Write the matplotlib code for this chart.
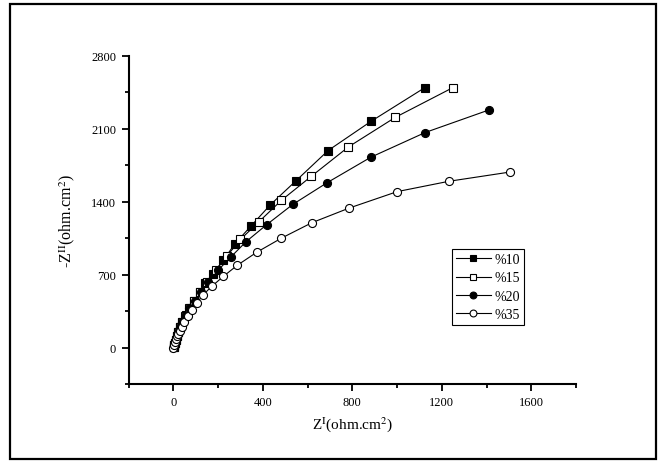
import matplotlib
matplotlib.use("Agg")
import matplotlib.pyplot as plt
from matplotlib.patches import Rectangle
from matplotlib.ticker import MultipleLocator

plt.rcParams['font.family'] = ['Liberation Serif', 'DejaVu Serif']
plt.rcParams['mathtext.fontset'] = 'stix'

labels = ['%10', '%15', '%20', '%35']

x10 = [2, 4, 7, 11, 16, 23, 31, 41, 55, 73, 94, 119, 143, 177, 224, 275, 347, 434, 549, 692, 883, 1124]
y10 = [5, 20, 45, 75, 110, 150, 195, 245, 310, 379, 446, 536, 616, 709, 838, 995, 1165, 1370, 1601, 1890, 2169, 2493]

x15 = [2, 4, 7, 11, 16, 22, 30, 40, 53, 70, 92, 118, 152, 190, 239, 300, 383, 483, 617, 783, 992, 1249]
y15 = [5, 20, 45, 75, 110, 150, 195, 245, 305, 375, 445, 530, 625, 741, 876, 1037, 1207, 1412, 1643, 1925, 2208, 2493]

x20 = [2, 4, 7, 11, 16, 22, 30, 40, 53, 72, 98, 123, 157, 200, 256, 326, 417, 534, 688, 883, 1126, 1409]
y20 = [5, 20, 45, 75, 110, 150, 195, 245, 305, 375, 446, 529, 626, 741, 866, 1017, 1178, 1373, 1582, 1826, 2063, 2278]

x35 = [0, 3, 7, 11, 16, 22, 28, 38, 49, 64, 82, 105, 134, 172, 224, 286, 373, 483, 619, 786, 1001, 1232, 1506]
y35 = [0, 25, 50, 78, 106, 130, 160, 196, 241, 298, 363, 427, 507, 587, 683, 789, 914, 1049, 1197, 1338, 1496, 1595, 1684]

xticks = [0, 400, 800, 1200, 1600]
yticks = [0, 700, 1400, 2100, 2800]

fig = plt.figure(figsize=(6.61, 4.64), dpi=100)
ax = fig.add_axes([0.1945, 0.1703, 0.8714 - 0.1945, 0.8778 - 0.1703])

ms_sq = 5.2
ms_ci = 5.8
lw = 0.8
ax.plot(x10, y10, '-s', color='black', mfc='black', mec='black', ms=ms_sq, lw=lw, mew=0.8, label=labels[0])
ax.plot(x15, y15, '-s', color='black', mfc='white', mec='black', ms=ms_sq, lw=lw, mew=0.8, label=labels[1])
ax.plot(x20, y20, '-o', color='black', mfc='black', mec='black', ms=ms_ci, lw=lw, mew=0.8, label=labels[2])
ax.plot(x35, y35, '-o', color='black', mfc='white', mec='black', ms=ms_ci, lw=lw, mew=0.8, label=labels[3])

ax.set_xlim(-200, 1800)
ax.set_ylim(-350, 2800)
ax.set_xticks(xticks)
ax.set_yticks(yticks)
ax.xaxis.set_minor_locator(MultipleLocator(200))
ax.yaxis.set_minor_locator(MultipleLocator(350))

for s in ['top', 'right']:
    ax.spines[s].set_visible(False)
for s in ['left', 'bottom']:
    ax.spines[s].set_linewidth(1.5)

ax.tick_params(which='major', direction='out', length=5, width=1.3, labelsize=9, pad=4)
ax.tick_params(which='minor', direction='out', length=3, width=1.3)

ax.set_xlabel(r'Z$^{\rm I}$(ohm.cm$^{2}$)', fontsize=11, labelpad=4)
ax.set_ylabel(r'-Z$^{\rm II}$(ohm.cm$^{2}$)', fontsize=11.5, labelpad=10)

leg = ax.legend(loc='upper left', bbox_to_anchor=(0.6834, 0.4612), bbox_transform=fig.transFigure,
                fontsize=10, frameon=True, fancybox=False, edgecolor='black', framealpha=1,
                borderaxespad=0, handlelength=2.5, handletextpad=0.3, labelspacing=0.38,
                borderpad=0.3, markerscale=0.85)
leg.get_frame().set_linewidth(0.8)

fig.patches.append(Rectangle((9.5 / 661, 1 - 460 / 464), (655.5 - 9.5) / 661, (460 - 5) / 464,
                             transform=fig.transFigure, fill=False, edgecolor='black', linewidth=1.6))

fig.savefig('out.png', dpi=100)
